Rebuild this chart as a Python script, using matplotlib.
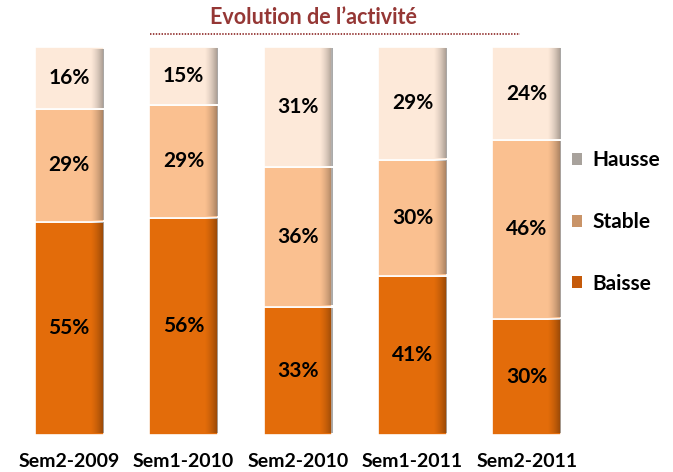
import numpy as np
import matplotlib
matplotlib.use("Agg")
import matplotlib.pyplot as plt
from matplotlib.patches import Patch

categories = ["Sem2-2009", "Sem1-2010", "Sem2-2010", "Sem1-2011", "Sem2-2011"]
baisse = [55, 56, 33, 41, 30]
stable = [29, 29, 36, 30, 46]
hausse = [16, 15, 31, 29, 24]
series_names = ["Baisse", "Stable", "Hausse"]
colors = ["#E36C0A", "#FAC090", "#FDE9D9"]

plt.rcParams['font.family'] = ['Lato', 'DejaVu Sans']

fig = plt.figure(figsize=(6.73, 4.72), dpi=100)
ax = fig.add_axes([12/673, 37/472, 572/673, 388/472])

x = np.arange(len(categories))
width = 0.6
series = [baisse, stable, hausse]
bottom = np.zeros(len(categories))
for vals, col in zip(series, colors):
    vals = np.array(vals, dtype=float)
    ax.bar(x, vals, width, bottom=bottom, color=col, edgecolor="white", linewidth=1.2, zorder=2)
    grad = np.zeros((1, 64, 4))
    grad[..., 3] = np.linspace(0, 0.5, 64) ** 1.5
    for xi, b, v in zip(x, bottom, vals):
        x1 = xi + width / 2
        x0 = x1 - width * 0.2
        ax.imshow(grad, extent=(x0, x1, b + 0.4, b + v - 0.4), aspect="auto", zorder=3, interpolation="bilinear")
        ax.text(xi, b + v / 2, f"{int(v)}%", ha="center", va="center", fontsize=15,
                fontweight="bold", color="#000000", zorder=4)
    bottom += vals

ax.set_xlim(-0.5, 4.5)
ax.set_ylim(0, 100)
for s in ax.spines.values():
    s.set_visible(False)
ax.set_yticks([])
ax.set_xticks(x)
ax.set_xticklabels(categories, fontsize=14, fontweight="bold", color="#000000")
ax.tick_params(axis="x", length=0, pad=13)

handles = [Patch(facecolor="#A8A29C"), Patch(facecolor="#C99468"), Patch(facecolor="#C55A0A")]
leg = fig.legend(handles, ["Hausse", "Stable", "Baisse"], loc="center left",
                 bbox_to_anchor=(553/673, 250/472), frameon=False,
                 prop={"size": 15, "weight": "bold"}, labelspacing=2.0,
                 handlelength=0.5, handleheight=0.5, handletextpad=0.5)

fig.text(313/673, 1 - 18/472, "Evolution de l\u2019activité", ha="center", va="center",
         fontsize=15.5, fontweight="bold", color="#953735")
fig.add_artist(plt.Line2D([150/673, 520/673], [1 - 34/472, 1 - 34/472], color="#953735",
                          linestyle=(0, (0.8, 0.8)), linewidth=1.3, transform=fig.transFigure))

fig.savefig("out.png", dpi=100)
